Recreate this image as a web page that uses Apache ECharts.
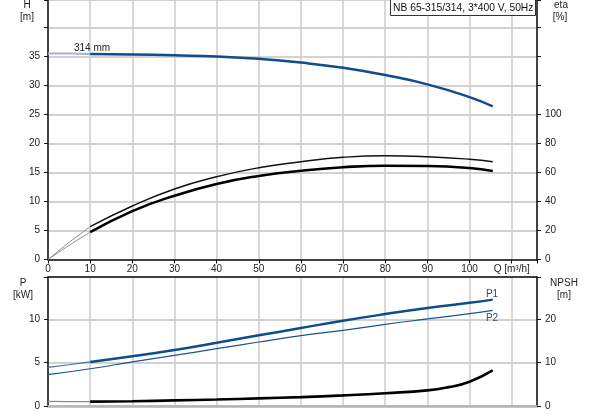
<!DOCTYPE html>
<html><head><meta charset="utf-8">
<script src="https://cdn.jsdelivr.net/npm/echarts@6/dist/echarts.min.js"></script>
<style>html,body{margin:0;padding:0;background:#fff}#c{width:593px;height:415px}</style>
</head><body><div id="c"></div>
<script>
// Flow (m³/h)
const qLow = [0, 5, 10];
const q = [10, 20, 30, 40, 50, 60, 70, 80, 90, 100, 105.5];
const qNpsh = [10, 20, 30, 40, 50, 60, 70, 80, 90, 95, 100, 105.5];
const qP2 = [0, 10, 20, 30, 40, 50, 60, 70, 80, 90, 100, 105.5];
// Head H [m]
const headLow = [35.5, 35.5, 35.45];
const head = [35.45, 35.35, 35.2, 35.0, 34.6, 33.95, 33.05, 31.8, 30.2, 28.0, 26.4];
// Efficiency eta [%]
const etaPumpLow = [0, 11.8, 22.6];
const etaPump = [22.6, 36.9, 48.6, 57.1, 63.3, 67.4, 70.5, 71.6, 70.9, 69.1, 67.4];
const etaTotalLow = [0, 9.7, 18.8];
const etaTotal = [18.8, 33.4, 44.0, 52.1, 57.6, 61.2, 63.6, 64.7, 64.5, 63.1, 61.0];
// Power [kW]
const p1Low = [4.45, 4.76, 5.08];
const p1 = [5.08, 5.73, 6.46, 7.30, 8.15, 9.0, 9.84, 10.6, 11.3, 11.9, 12.27];
const p2 = [3.61, 4.30, 5.08, 5.84, 6.61, 7.38, 8.11, 8.72, 9.42, 10.04, 10.65, 11.03];
// NPSH [m]
const npshLow = [1.05, 1.02, 1.0];
const npsh = [1.0, 1.1, 1.3, 1.5, 1.75, 2.05, 2.45, 2.95, 3.6, 4.35, 5.6, 8.2];
// tick labels
const qLabels = [0, 10, 20, 30, 40, 50, 60, 70, 80, 90, 100];
const qUnitLabel = 'Q [m³/h]';
const hLabels = [0, 5, 10, 15, 20, 25, 30, 35];
const etaLabels = [0, 20, 40, 60, 80, 100];
const pLabels = [0, 5, 10];
const npshLabels = [0, 10, 20];

const zip = (xs, ys) => xs.map((x, i) => [x, ys[i]]);
const blue = '#0f4c8a';
const font = 'Liberation Sans, Arial, sans-serif';
const FS = 10;
const lblStyle = {color: '#222', fontSize: FS, fontFamily: font};
const fmt = arr => v => (arr.some(a => Math.abs(a - v) < 1e-6) ? String(v) : '');

const chart = echarts.init(document.getElementById('c'), null, {renderer: 'canvas'});
const grid1 = {left: 48, right: 56, top: 0, height: 259.5};
const grid2 = {left: 48, right: 56, top: 277, height: 129};

function line(name, data, xi, yi, color, width, z) {
  return {name, type: 'line', xAxisIndex: xi, yAxisIndex: yi, data, smooth: 0.5,
    showSymbol: false, symbol: 'none', silent: true,
    lineStyle: {color, width}, z: z || 3};
}
function txt(text, x, y, fill, align, size) {
  return {type: 'text', z: 10, style: {text, x, y, textAlign: align || 'center', textVerticalAlign: 'middle',
    fill: fill || '#222', font: (size || FS) + 'px ' + font}};
}

chart.setOption({
  animation: false,
  grid: [grid1, grid2],
  xAxis: [
    {gridIndex: 0, type: 'value', min: 0, max: 116, interval: 10,
      axisLine: {show: true, onZero: false, lineStyle: {color: '#111', width: 1.5}},
      axisTick: {show: true, length: 4, lineStyle: {color: '#111'}},
      axisLabel: Object.assign({margin: 5, formatter: v => (v === 110 ? qUnitLabel : fmt(qLabels)(v))}, lblStyle),
      splitLine: {show: true, lineStyle: {color: '#cdcdcd', width: 1.5}}},
    {gridIndex: 1, type: 'value', min: 0, max: 116, interval: 10,
      axisLine: {show: true, onZero: false, lineStyle: {color: '#b4b4b4', width: 2.5}},
      axisTick: {show: false}, axisLabel: {show: false},
      splitLine: {show: true, lineStyle: {color: '#cdcdcd', width: 1.5}}},
    {gridIndex: 1, type: 'value', min: 0, max: 116, position: 'top',
      axisLine: {show: true, onZero: false, lineStyle: {color: '#111', width: 1.5}},
      axisTick: {show: false}, axisLabel: {show: false}, splitLine: {show: false}}
  ],
  yAxis: [
    {gridIndex: 0, type: 'value', min: 0, max: 44.74, interval: 5,
      axisLine: {show: true, onZero: false, lineStyle: {color: '#111', width: 1.5}},
      axisTick: {show: true, length: 4, lineStyle: {color: '#111'}},
      axisLabel: Object.assign({margin: 8, formatter: fmt(hLabels)}, lblStyle),
      splitLine: {show: true, lineStyle: {color: '#d2d2d2', width: 2}}},
    {gridIndex: 0, type: 'value', position: 'right', min: 0, max: 178.96, interval: 20,
      axisLine: {show: true, onZero: false, lineStyle: {color: '#111', width: 1.5}},
      axisTick: {show: true, length: 4, lineStyle: {color: '#111'}},
      axisLabel: Object.assign({margin: 8, formatter: fmt(etaLabels)}, lblStyle),
      splitLine: {show: false}},
    {gridIndex: 1, type: 'value', min: 0, max: 14.88, interval: 5,
      axisLine: {show: true, onZero: false, lineStyle: {color: '#111', width: 1.5}},
      axisTick: {show: true, length: 4, lineStyle: {color: '#111'}},
      axisLabel: Object.assign({margin: 8, formatter: fmt(pLabels)}, lblStyle),
      splitLine: {show: true, lineStyle: {color: '#d2d2d2', width: 2}}},
    {gridIndex: 1, type: 'value', position: 'right', min: 0, max: 29.76, interval: 10,
      axisLine: {show: true, onZero: false, lineStyle: {color: '#111', width: 1.5}},
      axisTick: {show: true, length: 4, lineStyle: {color: '#111'}},
      axisLabel: Object.assign({margin: 8, formatter: fmt(npshLabels)}, lblStyle),
      splitLine: {show: false}}
  ],
  series: [
    line('H low', zip(qLow, headLow), 0, 0, '#aab3c3', 2),
    line('H', zip(q, head), 0, 0, blue, 2.5, 4),
    line('eta pump low', zip(qLow, etaPumpLow), 0, 1, '#8a8a8a', 1),
    line('eta pump', zip(q, etaPump), 0, 1, '#111', 1.4, 4),
    line('eta total low', zip(qLow, etaTotalLow), 0, 1, '#8a8a8a', 1),
    line('eta total', zip(q, etaTotal), 0, 1, '#000', 2.6, 4),
    line('P1 low', zip(qLow, p1Low), 1, 2, '#4a6f98', 1.2),
    line('P1', zip(q, p1), 1, 2, blue, 2.5, 4),
    line('P2', zip(qP2, p2), 1, 2, '#1d5490', 1.2, 4),
    line('NPSH low', zip(qLow, npshLow), 1, 3, '#888', 1.2),
    line('NPSH', zip(qNpsh, npsh), 1, 3, '#000', 2.6, 4)
  ],
  graphic: [
    txt('H', 27, 5),
    txt('[m]', 27, 17),
    txt('eta', 561, 5),
    txt('[%]', 560, 17),
    txt('P', 23, 283),
    txt('[kW]', 23, 295),
    txt('NPSH', 564, 283),
    txt('[m]', 564, 295),
    txt('314 mm', 74, 48, '#222', 'left'),
    txt('P1', 492, 294, '#24527e'),
    txt('P2', 492, 318, '#24527e'),
    {type: 'rect', z: 20, shape: {x: 390.5, y: -1.5, width: 145, height: 17}, style: {fill: '#fff', stroke: '#333', lineWidth: 1}},
    {type: 'text', z: 21, style: {text: 'NB 65-315/314, 3*400 V, 50Hz', x: 393, y: 8, textAlign: 'left', textVerticalAlign: 'middle', fill: '#111', font: '10.3px ' + font}}
  ]
});
</script></body></html>
